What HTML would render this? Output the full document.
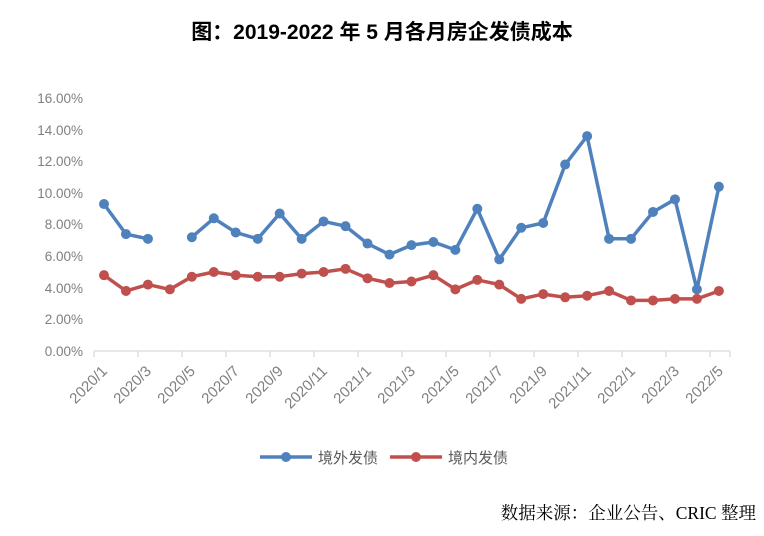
<!DOCTYPE html>
<html><head><meta charset="utf-8"><style>body{margin:0;background:#fff}svg{display:block}</style></head>
<body>
<svg width="764" height="536" xmlns="http://www.w3.org/2000/svg" font-family="Liberation Sans, Noto Sans CJK SC, sans-serif">
<text x="382" y="39" text-anchor="middle" font-size="21" font-weight="bold" fill="#000">图：2019-2022 年 5 月各月房企发债成本</text>
<g font-size="13.5" fill="#7f7f7f" text-anchor="end">
<text x="83" y="356">0.00%</text><text x="83" y="324">2.00%</text><text x="83" y="293">4.00%</text><text x="83" y="261">6.00%</text><text x="83" y="229">8.00%</text><text x="83" y="198">10.00%</text><text x="83" y="166">12.00%</text><text x="83" y="135">14.00%</text><text x="83" y="103">16.00%</text>
</g>
<g stroke="#d9d9d9" stroke-width="1.3">
<line x1="94" y1="351" x2="730" y2="351"/>
<path d="M94 351v6M138 351v6M182 351v6M226 351v6M270 351v6M314 351v6M358 351v6M402 351v6M446 351v6M490 351v6M534 351v6M578 351v6M622 351v6M666 351v6M710 351v6M730 351v6"/>
</g>
<g font-size="15" fill="#7f7f7f" text-anchor="end" id="xl"></g>
<g id="ser"></g>
<g transform="translate(260,457)">
<line x1="0" y1="0" x2="52" y2="0" stroke="#4f81bd" stroke-width="3.5"/><circle cx="26" cy="0" r="5" fill="#4f81bd"/>
<text x="58" y="6" font-size="15" fill="#595959">境外发债</text>
<line x1="130" y1="0" x2="182" y2="0" stroke="#c0504d" stroke-width="3.5"/><circle cx="156" cy="0" r="5" fill="#c0504d"/>
<text x="188" y="6" font-size="15" fill="#595959">境内发债</text>
</g>
<text x="756" y="519" text-anchor="end" font-size="17.5" fill="#000" font-family="Liberation Serif, Noto Serif CJK SC, serif">数据来源：企业公告、CRIC 整理</text>
</svg>
<script>
var ns="http://www.w3.org/2000/svg";
var xl=document.getElementById("xl");
var labs=["2020/1","2020/3","2020/5","2020/7","2020/9","2020/11","2021/1","2021/3","2021/5","2021/7","2021/9","2021/11","2022/1","2022/3","2022/5"];
labs.forEach(function(l,k){var x=108+44*k,y=372;var t=document.createElementNS(ns,"text");t.setAttribute("x",x);t.setAttribute("y",y);t.setAttribute("transform","rotate(-45 "+x+" "+y+")");t.textContent=l;xl.appendChild(t);});
var blue=[9.3,7.4,7.1,null,7.2,8.4,7.5,7.1,8.7,7.1,8.2,7.9,6.8,6.1,6.7,6.9,6.4,9.0,5.8,7.8,8.1,11.8,13.6,7.1,7.1,8.8,9.6,3.9,10.4];
var red=[4.8,3.8,4.2,3.9,4.7,5.0,4.8,4.7,4.7,4.9,5.0,5.2,4.6,4.3,4.4,4.8,3.9,4.5,4.2,3.3,3.6,3.4,3.5,3.8,3.2,3.2,3.3,3.3,3.8];
var g=document.getElementById("ser");
function draw(d,c){var p="",pen=false;d.forEach(function(v,i){if(v==null){pen=false;return;}var x=104+21.96*i,y=351-v*15.8;p+=(pen?"L":"M")+x.toFixed(1)+" "+y.toFixed(1);pen=true;});
var e=document.createElementNS(ns,"path");e.setAttribute("d",p);e.setAttribute("stroke",c);e.setAttribute("stroke-width","3.5");e.setAttribute("fill","none");e.setAttribute("stroke-linejoin","round");g.appendChild(e);
d.forEach(function(v,i){if(v==null)return;var ci=document.createElementNS(ns,"circle");ci.setAttribute("cx",104+21.96*i);ci.setAttribute("cy",351-v*15.8);ci.setAttribute("r","5");ci.setAttribute("fill",c);g.appendChild(ci);});}
draw(blue,"#4f81bd");draw(red,"#c0504d");
</script>
</body></html>
